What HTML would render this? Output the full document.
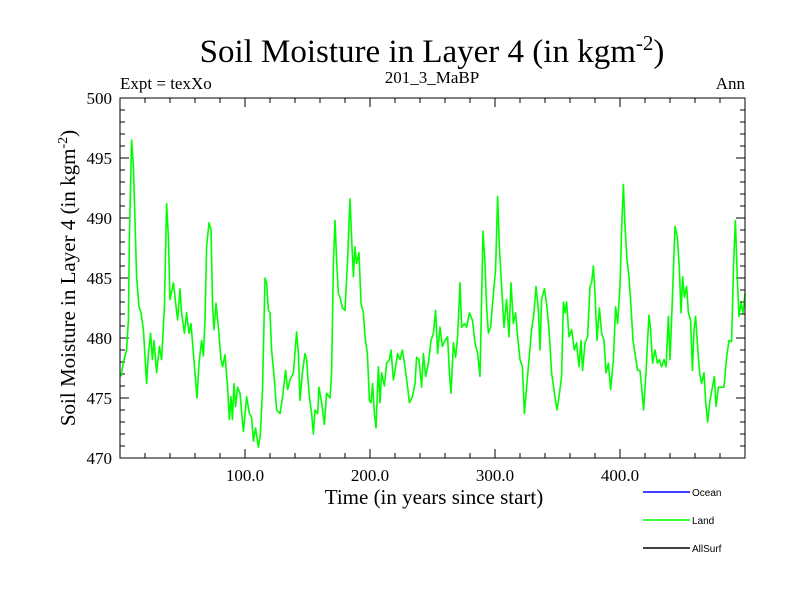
<!DOCTYPE html>
<html><head><meta charset="utf-8"><style>
body{margin:0;background:#fff;}
svg{display:block;}
.serif{font-family:"Liberation Serif",serif;}
.sans{font-family:"Liberation Sans",sans-serif;}
</style></head><body>
<svg id="chart" width="800" height="600" viewBox="0 0 800 600">
<text class="serif" x="432" y="62" font-size="33" text-anchor="middle">Soil Moisture in Layer 4 (in kgm<tspan dy="-12" font-size="21">-2</tspan><tspan dy="12">)</tspan></text>
<text class="serif" x="120" y="89" font-size="17">Expt = texXo</text>
<text class="serif" x="432" y="83" font-size="17" text-anchor="middle">201_3_MaBP</text>
<text class="serif" x="745" y="89" font-size="17" text-anchor="end">Ann</text>
<text class="serif" x="434" y="504" font-size="21" text-anchor="middle">Time (in years since start)</text>
<text class="serif" transform="translate(75,278) rotate(-90)" font-size="21" text-anchor="middle">Soil Moisture in Layer 4 (in kgm<tspan dy="-8" font-size="14">-2</tspan><tspan dy="8">)</tspan></text>
<g id="ticks"></g>
<g id="plot"></g>
<rect x="120" y="98" width="625" height="360" fill="none" stroke="#000" stroke-width="1"/>
<g>
<line x1="643" y1="492" x2="690" y2="492" stroke="#0000ff" stroke-width="1.5"/>
<text class="sans" x="692" y="496" font-size="10">Ocean</text>
<line x1="643" y1="520" x2="690" y2="520" stroke="#00ff00" stroke-width="1.5"/>
<text class="sans" x="692" y="524" font-size="10">Land</text>
<line x1="643" y1="548" x2="690" y2="548" stroke="#000" stroke-width="1.5"/>
<text class="sans" x="692" y="552" font-size="10">AllSurf</text>
</g>
</svg>
<script>
const years=[0.8,2.7,5.3,6.7,7.5,9.3,10.7,12,13.3,15.2,16.8,18.7,21.3,22.7,24.5,25.9,27.2,29.3,31.5,33.3,35.5,37.3,38.7,40,42.7,44,46.1,48,49.3,51.5,53.3,55.2,56.8,58.7,60,61.6,63.2,65.3,66.7,68,69.3,71.2,72.8,74.1,75.2,76.8,78.7,80.8,82.1,84,86.1,87.5,88.8,89.9,91.2,92.5,94.1,96,98.7,101.3,103.5,105.3,106.7,108.5,110.7,112.3,114.1,116,117.3,118.7,120,121.3,123.5,125.3,128,130.1,132.5,134.1,136,138.7,141.3,142.7,144,145.9,148,149.3,151.2,153.3,154.7,156,158.1,159.2,161.3,163.5,165.3,168,169.3,170.7,172,173.3,174.7,176,177.9,180,182.1,184,185.3,186.7,188,189.3,191.2,192.8,194.7,196,197.9,199.5,200.8,202.1,203.5,204.8,206.7,208,209.3,211.5,213.3,215.5,216.8,218.7,220.5,222.1,224,225.9,228,230.1,231.5,233.9,236,237.3,239.2,241.3,242.7,244.5,246.7,248.8,250.7,252.5,254.1,256,257.9,260,262.1,263.5,264.8,266.7,268.5,270.1,272,273.3,275.5,277.3,279.5,281.9,284,286.1,288,289.3,290.4,292,293.3,294.7,296.5,298.7,300.5,302.1,303.5,305.3,307.2,309.3,311.2,312.8,314.7,316.5,318.1,320,321.9,323.5,325.3,327.2,329.3,331.2,332.8,334.7,336,337.3,339.5,341.3,343.2,345.3,347.5,349.6,351.2,353.3,354.7,356,357.3,359.2,361.3,363.5,365.3,367.2,368.8,370.1,372,374.1,376,377.3,378.7,380,381.6,383.5,385.3,387.2,388.8,390.7,392.5,394.7,396.5,398.1,400,401.3,402.7,404,405.6,407.2,408.8,410.4,412,414.1,416,417.3,418.9,420.8,422.1,423.2,424.5,426.1,428,429.9,431.5,433.3,435.2,436.8,438.7,440,441.3,442.7,444,445.9,447.5,448.8,450.1,451.5,453.3,454.7,456.5,457.9,459.2,460.5,462.1,463.7,465.3,467.2,468.5,470.1,472,473.9,475.5,476.8,478.7,480.8,483.2,485.3,487.2,489.3,490.9,492.3,493.9,495.2,496.8,498.4,500];
const landValues=[476.8,478.0,479.0,481.5,488.4,496.5,494.3,489.8,485.1,482.6,482.1,480.7,476.2,478.7,480.4,478.2,479.8,477.1,479.3,478.2,482.6,491.2,488.4,483.2,484.6,483.4,481.5,484.1,482.1,480.4,482.1,480.4,481.2,478.7,477.1,475.0,477.9,479.8,478.5,481.5,487.6,489.6,489.0,482.6,480.7,482.9,480.9,478.2,477.6,478.6,475.9,473.2,475.1,473.2,476.2,474.3,475.9,475.4,472.2,475.1,473.7,473.4,471.4,472.5,470.9,472.0,475.9,485.0,484.6,482.3,482.1,479.0,476.5,474.0,473.7,475.1,477.3,475.7,476.5,477.1,480.5,478.7,474.8,477.1,478.7,478.2,475.4,473.7,472.0,474.0,473.7,475.9,474.6,472.8,475.4,475.0,477.1,486.2,489.8,486.5,483.7,483.4,482.5,482.3,486.5,491.6,488.4,485.1,487.6,486.2,487.1,482.9,482.1,480.1,478.7,474.8,474.6,476.2,473.7,472.5,477.6,474.6,477.1,476.0,477.9,478.2,479.0,476.5,477.6,478.7,478.2,479.0,477.6,475.9,474.6,475.1,476.2,478.4,478.2,475.9,478.7,476.8,477.9,479.8,480.4,482.3,478.7,480.9,479.3,479.8,480.1,477.1,475.4,479.6,478.4,480.1,484.6,480.9,481.2,480.9,482.1,481.5,479.6,478.7,476.8,483.2,488.9,486.2,482.6,480.4,480.9,483.7,485.7,491.8,487.6,484.3,480.9,483.2,480.1,484.6,481.2,482.1,480.1,478.2,477.6,473.7,475.9,478.2,480.7,482.1,484.3,482.3,479.0,483.2,484.1,482.9,480.7,477.1,475.4,474.0,475.1,476.8,483.0,482.1,483.0,480.1,480.7,479.0,479.6,477.6,479.8,477.3,479.6,480.1,484.3,484.6,486.0,483.7,479.8,482.5,480.4,479.8,477.1,477.9,475.7,478.2,482.6,481.2,484.3,489.0,492.8,489.3,486.5,485.1,482.6,479.8,478.7,477.3,477.3,475.9,474.0,477.1,479.8,481.9,480.7,477.9,479.0,477.9,478.2,477.6,478.2,477.6,481.8,478.2,481.5,485.7,489.3,488.4,485.7,482.1,485.1,483.4,484.3,482.1,481.5,477.3,480.7,481.8,479.3,477.1,476.2,477.1,474.8,473.0,474.8,475.9,476.8,474.3,475.9,475.9,475.9,478.4,479.8,479.7,486.2,489.8,484.8,481.8,482.9,482.1,483.7];
const xTickLabels=["100.0","200.0","300.0","400.0"];
const xTickValues=[100,200,300,400];
const yTickValues=[470,475,480,485,490,495,500];

const L=120,R=745,T=98,B=458,X0=0,X1=500,Y0=470,Y1=500;
const NS='http://www.w3.org/2000/svg';
function xs(v){return L+(v-X0)/(X1-X0)*(R-L);}
function ys(v){return B-(v-Y0)/(Y1-Y0)*(B-T);}
function mk(tag,attrs,parent){const e=document.createElementNS(NS,tag);for(const k in attrs)e.setAttribute(k,attrs[k]);parent.appendChild(e);return e;}
const tg=document.getElementById('ticks');
for(let v=Y0;v<=Y1;v++){
  const major=v%5===0,len=major?9:5,y=ys(v);
  const a=mk('line',{x1:L,y1:y,x2:L+len,y2:y,stroke:'#000','stroke-width':1},tg);
  
  
  const b=mk('line',{x1:R,y1:y,x2:R-len,y2:y,stroke:'#000','stroke-width':1},tg);
  
  
}
yTickValues.forEach(v=>{
  const t=mk('text',{x:L-8,y:ys(v)+6,'font-size':17,'text-anchor':'end',class:'serif'},tg);
  t.textContent=String(v);
  
  
});
for(let v=20;v<X1;v+=20){
  const major=v%100===0,len=major?9:5,x=xs(v);
  const a=mk('line',{x1:x,y1:B,x2:x,y2:B-len,stroke:'#000','stroke-width':1},tg);
  
  
  const b=mk('line',{x1:x,y1:T,x2:x,y2:T+len,stroke:'#000','stroke-width':1},tg);
  
  
}
xTickValues.forEach((v,i)=>{
  const t=mk('text',{x:xs(v),y:481,'font-size':17,'text-anchor':'middle',class:'serif'},tg);
  t.textContent=xTickLabels[i];
  
  
});
const pg=document.getElementById('plot');
const d=years.map((yr,i)=>(i?'L':'M')+xs(yr).toFixed(1)+','+ys(landValues[i]).toFixed(1)).join(' ');
const line=mk('path',{d:d,fill:'none',stroke:'#00ff00','stroke-width':1.6,'stroke-linejoin':'round'},pg);


</script>
</body></html>
